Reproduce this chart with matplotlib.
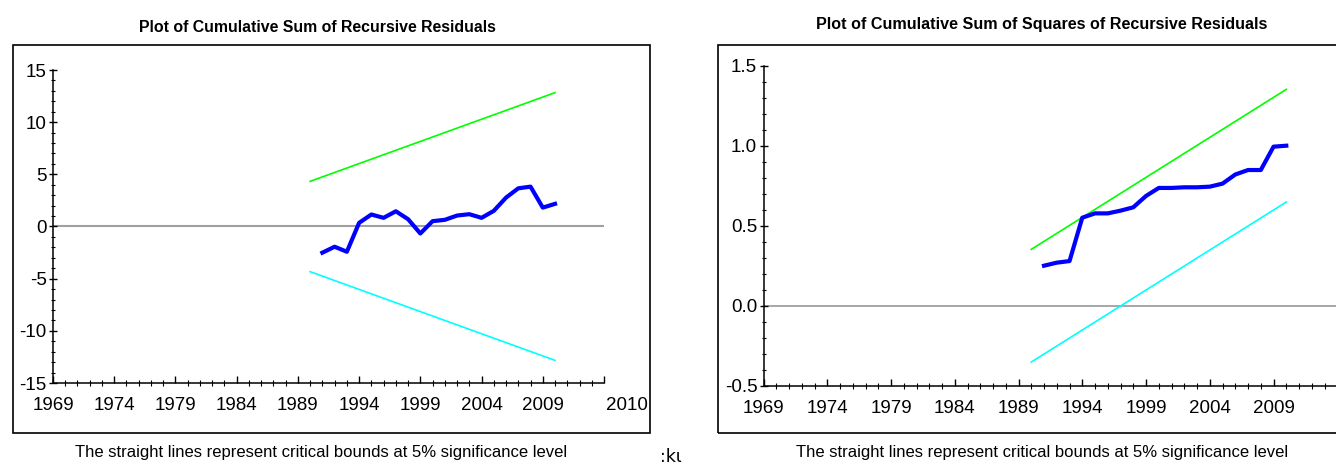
import numpy as np
import matplotlib
matplotlib.use("Agg")
import matplotlib.pyplot as plt
from matplotlib.patches import Rectangle
from matplotlib.ticker import MultipleLocator

FONT = ["Liberation Sans", "DejaVu Sans"]
plt.rcParams["font.family"] = FONT

# data
years = list(range(1991, 2011))
cusum = [-2.51, -1.94, -2.42, 0.35, 1.15, 0.83, 1.46, 0.70, -0.67, 0.51,
         0.64, 1.05, 1.18, 0.83, 1.50, 2.77, 3.66, 3.82, 1.81, 2.17]
cusumsq = [0.25, 0.269, 0.279, 0.55, 0.577, 0.577, 0.594, 0.615, 0.686, 0.736,
           0.736, 0.74, 0.74, 0.744, 0.763, 0.82, 0.848, 0.848, 0.994, 1.0]
bound_years = [1990, 2010]
cusum_upper = [4.33, 12.83]
cusum_lower = [-4.33, -12.83]
sq_upper = [0.352, 1.352]
sq_lower = [-0.352, 0.648]
xticks = [1969, 1974, 1979, 1984, 1989, 1994, 1999, 2004, 2009, 2014]
xlabels = ["1969", "1974", "1979", "1984", "1989", "1994", "1999", "2004", "2009", ""]

titles = ["Plot of Cumulative Sum of Recursive Residuals",
          "Plot of Cumulative Sum of Squares of Recursive Residuals"]
note = "The straight lines represent critical bounds at 5% significance level"

W, H = 1336, 465
fig = plt.figure(figsize=(W / 100, H / 100), dpi=100)


def fx(px):
    return px / W


def fy(py):
    return 1 - py / H


# outer frames
for x0, x1 in [(13, 650), (718, 1345)]:
    fig.add_artist(Rectangle((fx(x0), fy(433)), fx(x1 - x0), (433 - 45) / H,
                             fill=False, ec="black", lw=1.2,
                             transform=fig.transFigure, clip_on=False))


def style(ax, ymaj, ymin, ylo, yhi):
    ax.set_xlim(1969, 2014)
    ax.set_ylim(ylo, yhi)
    for s in ["top", "right"]:
        ax.spines[s].set_visible(False)
    for s in ["left", "bottom"]:
        ax.spines[s].set_linewidth(1.1)
    ax.set_xticks(xticks)
    ax.set_xticklabels(xlabels)
    ax.xaxis.set_minor_locator(MultipleLocator(1))
    ax.yaxis.set_major_locator(MultipleLocator(ymaj))
    ax.yaxis.set_minor_locator(MultipleLocator(ymin))
    ax.tick_params(axis="x", which="major", direction="in", length=5, width=1,
                   pad=10, labelsize=13.5)
    ax.tick_params(axis="x", which="minor", direction="inout", length=4, width=0.8)
    ax.tick_params(axis="y", which="major", direction="inout", length=6, width=1,
                   pad=1.5, labelsize=13.5)
    ax.tick_params(axis="y", which="minor", direction="inout", length=3.5, width=0.8)
    ax.set_facecolor("none")


# left panel: CUSUM
ax1 = fig.add_axes([fx(53), fy(383), fx(604 - 53), (383 - 70) / H])
style(ax1, 5, 1, -15, 15)
ax1.axhline(0, color="#a0a0a0", lw=1.5, zorder=1)
ax1.plot(bound_years, cusum_upper, color="#00ff00", lw=1.2)
ax1.plot(bound_years, cusum_lower, color="#00ffff", lw=1.2)
ax1.plot(years, cusum, color="#0000ff", lw=3)
ax1.set_yticks([-15, -10, -5, 0, 5, 10, 15])
ax1.set_yticklabels(["-15", "-10", "-5", "0", "5", "10", "15"])
ax1.text(2015.9, -16.3, "2010", fontsize=13.5, ha="center", va="top",
         clip_on=False)

# right panel: CUSUMSQ
ax2 = fig.add_axes([fx(763.5), fy(385.7), fx(1337.3 - 763.5), (385.7 - 65.7) / H])
style(ax2, 0.5, 0.1, -0.5, 1.5)
ax2.axhline(0, color="#a0a0a0", lw=1.3, zorder=1)
ax2.plot(bound_years, sq_upper, color="#00ff00", lw=1.2)
ax2.plot(bound_years, sq_lower, color="#00ffff", lw=1.2)
ax2.plot(years, cusumsq, color="#0000ff", lw=3)
ax2.set_yticks([-0.5, 0.0, 0.5, 1.0, 1.5])
ax2.set_yticklabels(["-0.5", "0.0", "0.5", "1.0", "1.5"])

# titles and footers
fig.text(fx(317), fy(27), titles[0], ha="center", va="center", fontsize=11.4,
         fontweight="bold")
fig.text(fx(1042), fy(24), titles[1], ha="center", va="center", fontsize=11.6,
         fontweight="bold")
fig.text(fx(321), fy(452), note, ha="center", va="center", fontsize=12)
fig.text(fx(1042), fy(452), note, ha="center", va="center", fontsize=12)
fig.text(fx(671), fy(457), ":kι", ha="center", va="center", fontsize=12.5,
         family=["DejaVu Sans"])

fig.savefig("out.png", dpi=100)
